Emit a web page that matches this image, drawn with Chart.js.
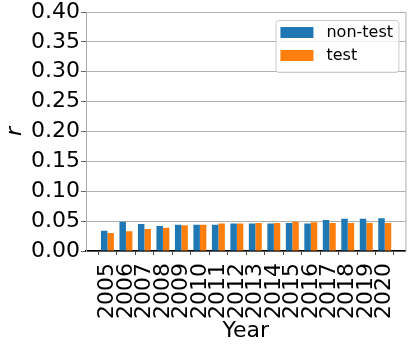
<!DOCTYPE html>
<html>
<head>
<meta charset="utf-8">
<script src="https://cdn.jsdelivr.net/npm/chart.js@4"></script>
<style>
  html, body { margin: 0; padding: 0; background: #fff; }
  #wrap { width: 415px; height: 346px; }
</style>
</head>
<body>
<div id="wrap"><canvas id="chart" width="415" height="346"></canvas></div>
<script>
// dados
const years = [2005, 2006, 2007, 2008, 2009, 2010, 2011, 2012, 2013, 2014, 2015, 2016, 2017, 2018, 2019, 2020];
const nonTest = [0.034, 0.049, 0.045, 0.042, 0.044, 0.044, 0.044, 0.046, 0.046, 0.046, 0.047, 0.046, 0.052, 0.054, 0.054, 0.055];
const test = [0.030, 0.033, 0.037, 0.039, 0.043, 0.044, 0.046, 0.046, 0.047, 0.047, 0.049, 0.048, 0.047, 0.047, 0.047, 0.047];
const yTicks = [0, 0.05, 0.10, 0.15, 0.20, 0.25, 0.30, 0.35, 0.40];

const FONT = 'DejaVu Sans';

// legenda desenhada dentro da área do gráfico (estilo matplotlib)
const innerLegend = {
    id: 'innerLegend',
    afterDraw(chart) {
        const { ctx, chartArea } = chart;
        const bx = chartArea.right - 130, by = chartArea.top + 8, bw = 123, bh = 52;
        ctx.save();
        ctx.fillStyle = 'rgba(255,255,255,0.8)';
        ctx.strokeStyle = '#cccccc';
        ctx.lineWidth = 1;
        ctx.beginPath();
        ctx.roundRect(bx + 0.5, by + 0.5, bw, bh, 3);
        ctx.fill();
        ctx.stroke();
        ctx.font = '16px "' + FONT + '"';
        ctx.textBaseline = 'middle';
        chart.data.datasets.forEach((ds, i) => {
            const py = by + 7 + i * 23;
            ctx.fillStyle = ds.backgroundColor;
            ctx.fillRect(bx + 5, py, 33, 11);
            ctx.fillStyle = '#000';
            ctx.fillText(ds.label, bx + 51, py + 6);
        });
        // espinha direita
        ctx.strokeStyle = '#aaaaaa';
        ctx.beginPath();
        ctx.moveTo(chartArea.right + 0.5, chartArea.top);
        ctx.lineTo(chartArea.right + 0.5, chartArea.bottom);
        ctx.stroke();
        ctx.restore();
    }
};

new Chart(document.getElementById('chart'), {
    type: 'bar',
    data: {
        datasets: [
            {
                label: 'non-test',
                data: years.map((y, i) => ({ x: y, y: nonTest[i] })),
                backgroundColor: '#1f77b4',
                categoryPercentage: 0.7,
                barPercentage: 1.0
            },
            {
                label: 'test',
                data: years.map((y, i) => ({ x: y, y: test[i] })),
                backgroundColor: '#ff7f0e',
                categoryPercentage: 0.7,
                barPercentage: 1.0
            }
        ]
    },
    options: {
        responsive: false,
        animation: false,
        layout: { padding: { top: 12, right: 4, left: 0, bottom: 0 } },
        plugins: { legend: { display: false }, tooltip: { enabled: false } },
        scales: {
            x: {
                type: 'linear',
                min: 2003.84,
                max: 2021.12,
                offset: false,
                afterBuildTicks: (scale) => { scale.ticks = years.map(v => ({ value: v })); },
                afterFit: (scale) => { scale.height = 95; },
                ticks: {
                    autoSkip: false,
                    minRotation: 90,
                    maxRotation: 90,
                    padding: 8,
                    color: '#000',
                    font: { family: FONT, size: 22, lineHeight: 1.0 },
                    callback: (v) => String(v)
                },
                grid: { drawOnChartArea: false, drawTicks: true, tickLength: 4, tickColor: '#444' },
                border: { color: '#000', width: 1.5 },
                title: {
                    display: true,
                    text: 'Year',
                    color: '#000',
                    font: { family: FONT, size: 22 },
                    padding: { top: 0, bottom: 2 }
                }
            },
            y: {
                min: 0,
                max: 0.4,
                afterBuildTicks: (scale) => { scale.ticks = yTicks.map(v => ({ value: v })); },
                afterFit: (scale) => { scale.width = 86; },
                ticks: {
                    padding: 1,
                    color: '#000',
                    font: { family: FONT, size: 22, lineHeight: 1.0 },
                    callback: (v) => Number(v).toFixed(2)
                },
                grid: { color: '#b0b0b0', lineWidth: 1, tickLength: 5, tickColor: '#666' },
                border: { color: '#aaaaaa', width: 1 },
                title: {
                    display: true,
                    text: 'r',
                    color: '#000',
                    font: { family: FONT, size: 22, style: 'italic' },
                    padding: { top: 2, bottom: 0 }
                }
            }
        }
    },
    plugins: [innerLegend]
});
</script>
</body>
</html>
